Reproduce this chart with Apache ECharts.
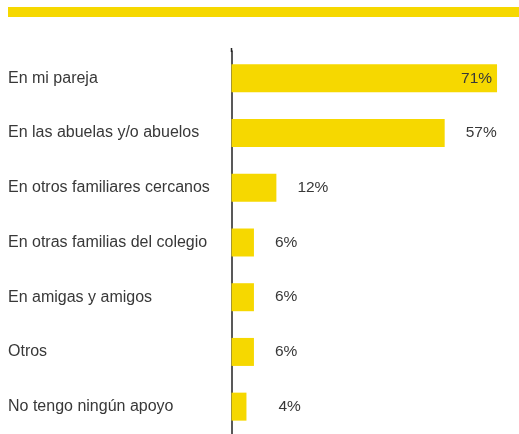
<!DOCTYPE html>
<html><head><meta charset="utf-8">
<script src="https://cdn.jsdelivr.net/npm/echarts@6/dist/echarts.min.js"></script>
<style>html,body{margin:0;padding:0;background:#fff}#c{width:519px;height:434px}</style>
</head><body><div id="c"></div>
<script>
const categories = ["En mi pareja","En las abuelas y/o abuelos","En otros familiares cercanos","En otras familias del colegio","En amigas y amigos","Otros","No tengo ningún apoyo"];
const values = [71,57,12,6,6,6,4];
const yellow = '#F6D800';
const chart = echarts.init(document.getElementById('c'), null, {renderer:'canvas'});
const data = values.map((v,i)=>{
  const item = {value:v};
  if (i===0) item.label = {position:'insideRight', distance:5};
  if (i===values.length-1) item.label = {offset:[11,0]};
  return item;
});
chart.setOption({
  animation:false,
  textStyle:{fontFamily:'Liberation Sans'},
  graphic:[
    {type:'rect', shape:{x:8,y:7,width:511,height:10}, style:{fill:yellow}},
    {type:'line', shape:{x1:231.5,y1:48,x2:231.5,y2:52}, style:{stroke:'#222', lineWidth:1.5}}
  ],
  grid:{left:231.5, right:7, top:51, bottom:-0.6, containLabel:false},
  xAxis:{type:'value', min:0, max:75, show:false},
  yAxis:{type:'category', data:categories, inverse:true,
    axisLine:{show:true, lineStyle:{color:'#222', width:1.5}},
    axisTick:{show:false},
    axisLabel:{align:'left', margin:223.5, color:'#383838', fontSize:16}},
  series:[{type:'bar', data:data, barWidth:28, itemStyle:{color:yellow},
    label:{show:true, position:'right', distance:21, formatter:'{c}%', color:'#383838', fontSize:15.5}}]
});
</script></body></html>
